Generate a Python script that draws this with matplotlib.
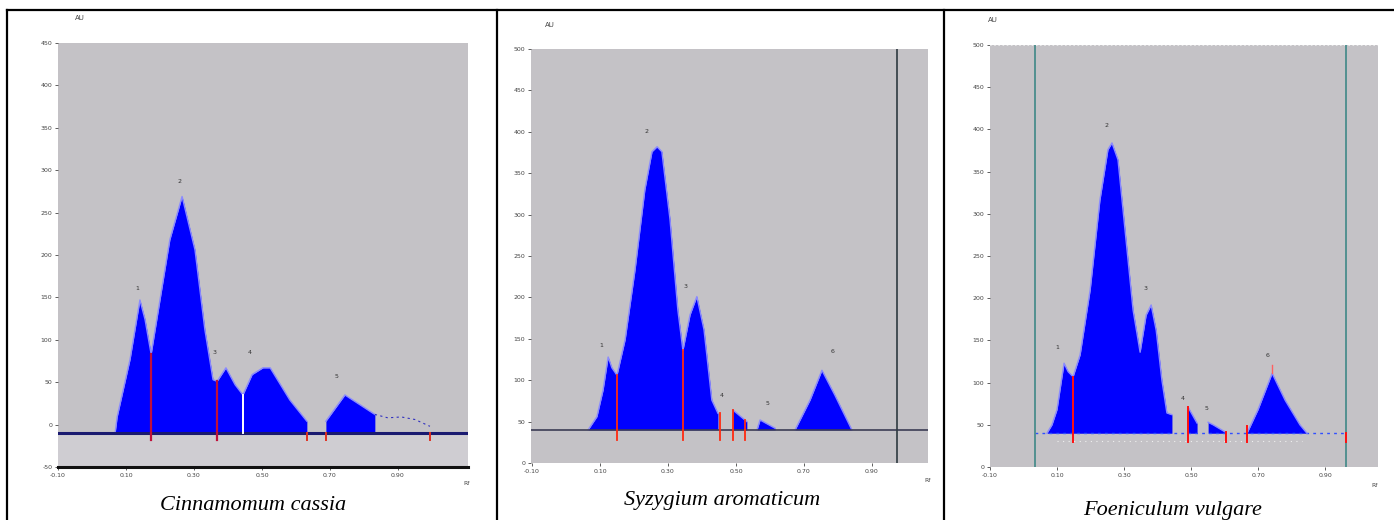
import matplotlib.pyplot as plt
from matplotlib.lines import Line2D

plt.rcParams['font.family'] = ['DejaVu Sans']

# densitograms: Rf vs AU, read peak by peak
cass_rf = [0.068, 0.074, 0.112, 0.141, 0.156, 0.174, 0.200, 0.229, 0.265, 0.303, 0.332,
           0.356, 0.368, 0.394, 0.421, 0.444, 0.471, 0.503, 0.524, 0.582, 0.632]
cass_au = [-10, 9, 77, 147, 124, 83, 147, 218, 269, 206, 112,
           53, 51, 67, 47, 35, 59, 67, 67, 29, 4]
cass_rf2 = [0.688, 0.744, 0.832]
cass_au2 = [4, 35, 12]
cass_tail_rf = [0.832, 0.87, 0.91, 0.95, 0.994]
cass_tail_au = [12, 8, 9, 6, -2]
cass_cuts = [0.174, 0.368, 0.632, 0.688, 0.994]
cass_cut_top = [83, 51, -10, -10, -10]
cass_peaks_rf = [0.132, 0.256, 0.359, 0.465, 0.718]
cass_peaks_au = [159, 285, 83, 83, 55]

syz_rf = [0.065, 0.091, 0.109, 0.124, 0.135, 0.150, 0.174, 0.203, 0.232, 0.253, 0.268,
          0.282, 0.306, 0.329, 0.344, 0.365, 0.385, 0.406, 0.429, 0.447]
syz_au = [40, 56, 88, 128, 115, 106, 149, 233, 330, 376, 382,
          376, 294, 185, 136, 179, 201, 161, 76, 60]
syz_rf2 = [0.491, 0.532]
syz_au2 = [64, 50]
syz_rf3 = [0.562, 0.571, 0.615]
syz_au3 = [40, 52, 42]
syz_rf4 = [0.674, 0.718, 0.753, 0.791, 0.841]
syz_au4 = [40, 76, 112, 82, 40]
syz_cuts = [0.150, 0.344, 0.453, 0.491, 0.526]
syz_cut_top = [106, 136, 60, 64, 52]
syz_peaks_rf = [0.103, 0.238, 0.353, 0.459, 0.594, 0.785]
syz_peaks_au = [140, 398, 211, 80, 70, 133]

foen_rf = [0.070, 0.085, 0.100, 0.121, 0.133, 0.148, 0.169, 0.199, 0.228, 0.252, 0.264,
           0.282, 0.306, 0.327, 0.348, 0.366, 0.381, 0.396, 0.413, 0.428, 0.443]
foen_au = [40, 50, 68, 123, 113, 107, 133, 210, 316, 376, 384,
           364, 269, 186, 136, 180, 192, 162, 103, 64, 62]
foen_rf2 = [0.491, 0.518]
foen_au2 = [71, 52]
foen_rf3 = [0.551, 0.566, 0.604]
foen_au3 = [53, 50, 41]
foen_rf4 = [0.667, 0.700, 0.742, 0.781, 0.825, 0.846]
foen_au4 = [40, 68, 111, 79, 50, 40]
foen_cuts = [0.148, 0.491, 0.604, 0.667, 0.963]
foen_cut_top = [107, 71, 41, 48, 40]
foen_peaks_rf = [0.100, 0.248, 0.364, 0.476, 0.545, 0.727]
foen_peaks_au = [140, 403, 210, 79, 68, 130]

GRAY = '#c4c2c6'
BLUE = '#0000ff'


def px_axes(fig, x0, y0, x1, y1):
    W, H = 1394, 520
    return fig.add_axes([x0 / W, 1 - y1 / H, (x1 - x0) / W, (y1 - y0) / H])


def style(ax, xlim, ylim, yticks, xticks, xlabels):
    ax.set_facecolor(GRAY)
    ax.set_xlim(*xlim)
    ax.set_ylim(*ylim)
    ax.set_yticks(yticks)
    ax.set_yticklabels([str(v) for v in yticks])
    ax.set_xticks(xticks)
    ax.set_xticklabels(xlabels)
    ax.tick_params(labelsize=4.5, colors='#444444', length=2, width=0.6, pad=2)
    for s in ax.spines.values():
        s.set_visible(False)


def draw_fill(ax, rf, au, base):
    ax.fill_between(rf, base, au, color=BLUE, lw=0)
    ax.plot(rf, au, color='#8a8aff', lw=1.0)


fig = plt.figure(figsize=(13.94, 5.2), dpi=100)

xt = [-0.1, 0.1, 0.3, 0.5, 0.7, 0.9]
xl = ['-0.10', '0.10', '0.30', '0.50', '0.70', '0.90']

# Cinnamomum cassia
ax1 = px_axes(fig, 58, 43, 468, 467)
style(ax1, (-0.1, 1.106), (-50, 450), list(range(-50, 451, 50)), xt, xl)
ax1.spines['bottom'].set_visible(True)
ax1.spines['bottom'].set_linewidth(2.2)
ax1.spines['bottom'].set_color('#111111')
ax1.axhspan(-50, -10, color='#cfcdd2', zorder=0)
draw_fill(ax1, cass_rf, cass_au, -10)
draw_fill(ax1, cass_rf2, cass_au2, -10)
ax1.plot(cass_tail_rf, cass_tail_au, color='#3030c0', lw=0.8, ls=(0, (2, 3)))
ax1.axhline(-10, color='#1a1a70', lw=2.2)
for x, top in zip(cass_cuts[:2], cass_cut_top[:2]):
    ax1.plot([x, x], [-18, top], color='#c0103a', lw=1.6)
for x in cass_cuts[2:]:
    ax1.plot([x, x], [-18, -10], color='#e03020', lw=1.4)
ax1.plot([0.444, 0.444], [-10, 35], color='white', lw=1.4)
for i, (x, y) in enumerate(zip(cass_peaks_rf, cass_peaks_au), 1):
    ax1.text(x, y, str(i), fontsize=4.5, color='#333333', ha='center')
fig.text(75 / 1394, 1 - 20 / 520, 'AU', fontsize=5, color='#444444')
fig.text(463 / 1394, 1 - 485 / 520, 'Rf', fontsize=4.5, color='#444444')

# Syzygium aromaticum
ax2 = px_axes(fig, 531, 49, 928, 463)
style(ax2, (-0.103, 1.065), (0, 500), list(range(0, 501, 50)), xt, xl)
draw_fill(ax2, syz_rf, syz_au, 40)
draw_fill(ax2, syz_rf2, syz_au2, 40)
draw_fill(ax2, syz_rf3, syz_au3, 40)
draw_fill(ax2, syz_rf4, syz_au4, 40)
ax2.axhline(40, color='#3c3c55', lw=1.2)
ax2.axvline(0.974, color='#2e3a40', lw=1.2)
for x, top in zip(syz_cuts, syz_cut_top):
    ax2.plot([x, x], [28, top], color='#ff2a10', lw=1.3)
for i, (x, y) in enumerate(zip(syz_peaks_rf, syz_peaks_au), 1):
    ax2.text(x, y, str(i), fontsize=4.5, color='#333333', ha='center')
fig.text(545 / 1394, 1 - 27 / 520, 'AU', fontsize=5, color='#444444')
fig.text(928 / 1394, 1 - 482 / 520, 'Rf', fontsize=4.5, color='#444444', ha='center')

# Foeniculum vulgare
ax3 = px_axes(fig, 990, 45, 1378, 467)
style(ax3, (-0.1, 1.058), (0, 500), list(range(0, 501, 50)), xt, xl)
ax3.axhline(500, color='#eeeeee', lw=1.2, ls=(0, (1, 1.5)))
ax3.plot([0.034, 0.963], [40, 40], color='#3050ff', lw=1.0, ls=(0, (2, 3)))
ax3.plot([0.10, 0.83], [31, 31], color='#f0f0f0', lw=0.8, ls=(0, (1, 4)))
draw_fill(ax3, foen_rf, foen_au, 40)
draw_fill(ax3, foen_rf2, foen_au2, 40)
draw_fill(ax3, foen_rf3, foen_au3, 40)
draw_fill(ax3, foen_rf4, foen_au4, 40)
for x in [0.034, 0.963]:
    ax3.axvline(x, color='#4a8c8c', lw=1.3)
for x, top in zip(foen_cuts, foen_cut_top):
    ax3.plot([x, x], [30, top], color='#ff1010', lw=1.4)
ax3.plot([0.742, 0.742], [111, 121], color='#ff6060', lw=1.0)
for i, (x, y) in enumerate(zip(foen_peaks_rf, foen_peaks_au), 1):
    ax3.text(x, y, str(i), fontsize=4.5, color='#333333', ha='center')
fig.text(988 / 1394, 1 - 22 / 520, 'AU', fontsize=5, color='#444444')
fig.text(1375 / 1394, 1 - 487 / 520, 'Rf', fontsize=4.5, color='#444444', ha='center')

# captions
cap = dict(fontsize=16, style='italic', family='Liberation Serif', ha='center', va='center')
fig.text(253 / 1394, 1 - 506 / 520, 'Cinnamomum cassia', **cap)
fig.text(722 / 1394, 1 - 500 / 520, 'Syzygium aromaticum', **cap)
fig.text(1173 / 1394, 1 - 510 / 520, 'Foeniculum vulgare', **cap)

# table borders
def hline(y, x0, x1):
    fig.add_artist(Line2D([x0 / 1394, x1 / 1394], [1 - y / 520] * 2, color='black', lw=1.6))


def vline(x, y0, y1):
    fig.add_artist(Line2D([x / 1394] * 2, [1 - y0 / 520, 1 - y1 / 520], color='black', lw=1.6))


hline(10, 7, 1394)
vline(7, 10, 520)
vline(497, 10, 520)
vline(944, 10, 520)

fig.savefig('out.png', dpi=100)
